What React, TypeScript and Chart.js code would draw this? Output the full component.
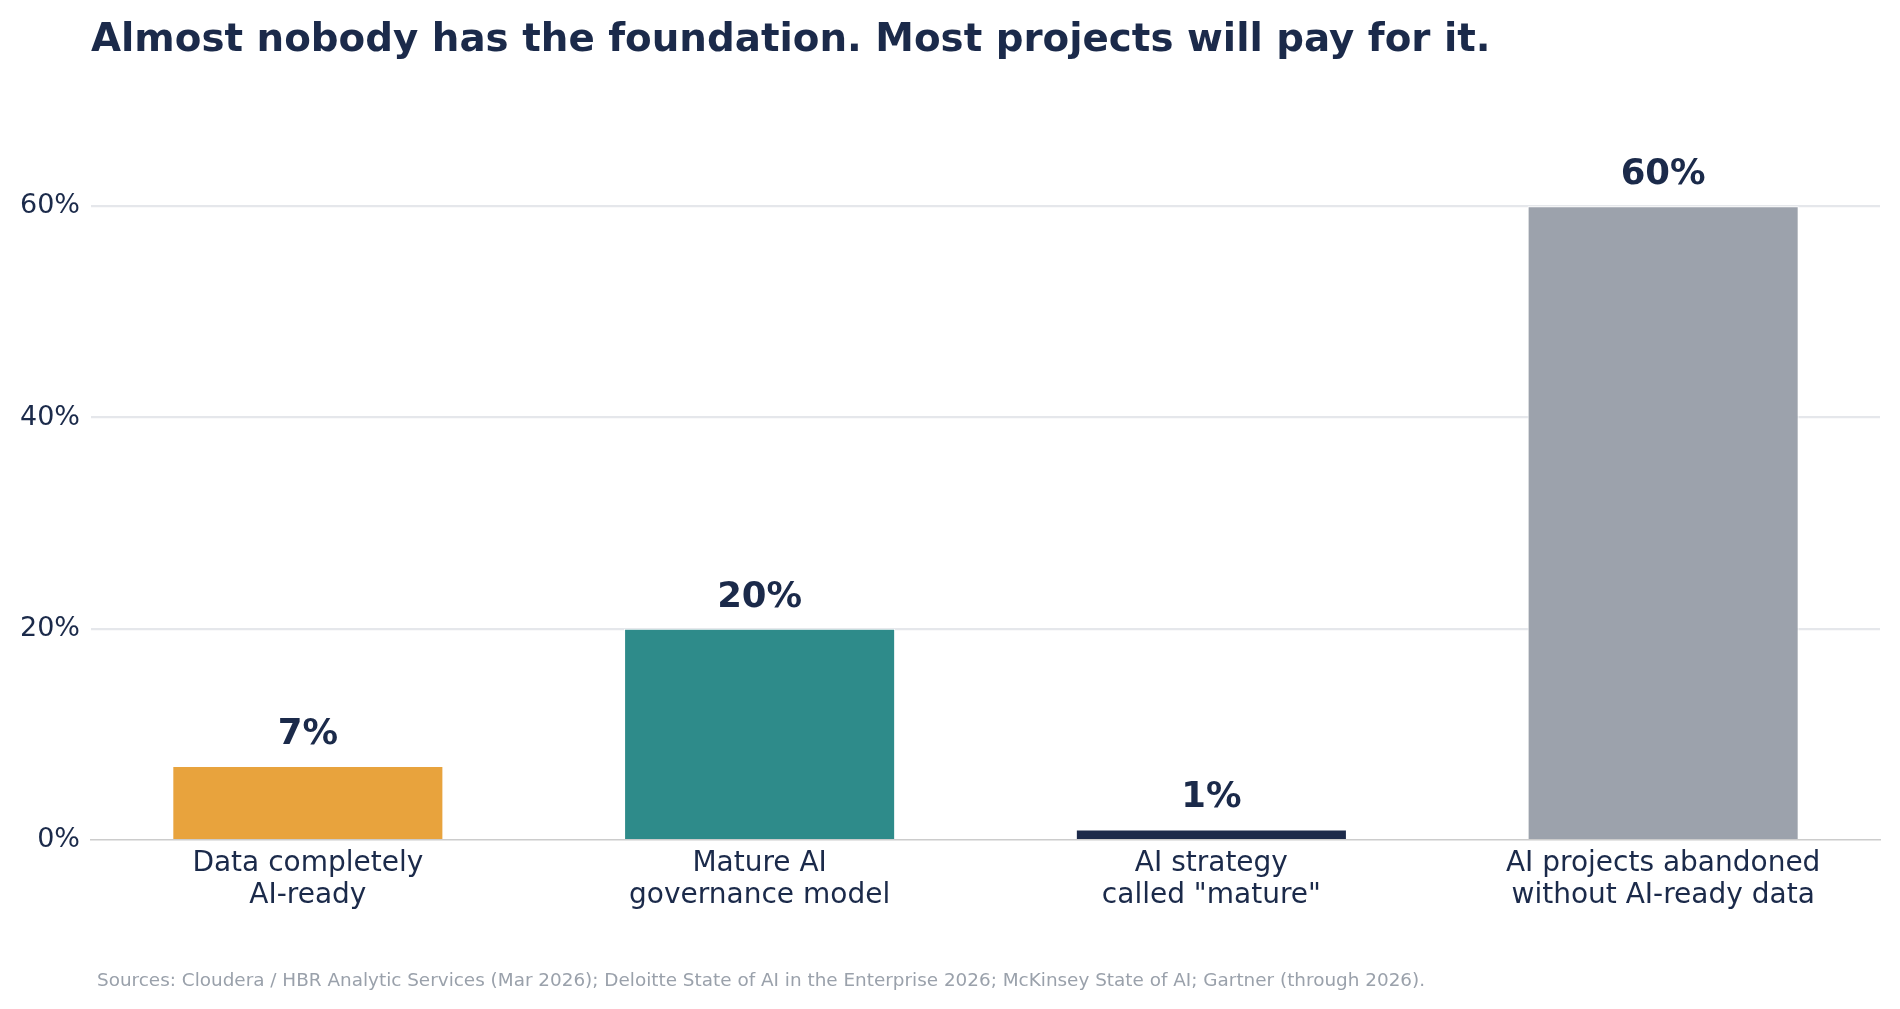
import React, { useEffect, useRef } from "react";
import { Chart, registerables } from "chart.js";

Chart.register(...registerables);

const categories: string[][] = [
  ["Data completely", "AI-ready"],
  ["Mature AI", "governance model"],
  ["AI strategy", 'called "mature"'],
  ["AI projects abandoned", "without AI-ready data"],
];
const values: number[] = [7, 20, 1, 60];
const barColors: string[] = ["#E8A33D", "#2E8B8A", "#1C2A4A", "#9CA2AC"];
const yTicks: number[] = [0, 20, 40, 60];

const titleText = "Almost nobody has the foundation. Most projects will pay for it.";
const sourceText =
  "Sources: Cloudera / HBR Analytic Services (Mar 2026); Deloitte State of AI in the Enterprise 2026; McKinsey State of AI; Gartner (through 2026).";

const NAVY = "#1B2A4A";
const FONT = "'DejaVu Sans', sans-serif";

const App: React.FC = () => {
  const canvasRef = useRef<HTMLCanvasElement | null>(null);

  useEffect(() => {
    document.body.style.margin = "0";
    if (!canvasRef.current) return;
    const ctx = canvasRef.current.getContext("2d");
    if (!ctx) return;

    const chart = new Chart(ctx, {
      type: "bar",
      data: {
        datasets: [
          {
            data: values.map((v, i) => ({ x: i, y: v })),
            backgroundColor: barColors,
            borderColor: "#ffffff",
            borderWidth: 1,
            barPercentage: 0.6,
            categoryPercentage: 1,
          },
        ],
      },
      options: {
        responsive: true,
        maintainAspectRatio: false,
        animation: false,
        layout: { padding: { top: 143, right: 20, left: 0, bottom: 0 } },
        plugins: {
          legend: { display: false },
          tooltip: { enabled: false },
          title: { display: false },
        },
        scales: {
          x: {
            type: "linear",
            offset: false,
            min: -0.48,
            max: 3.48,
            afterBuildTicks: (axis) => {
              axis.ticks = categories.map((_, i) => ({ value: i }));
            },
            afterFit: (axis) => {
              axis.height = 169;
            },
            grid: { display: false, drawTicks: false, offset: false },
            border: { display: true, color: "#CCCCCC", width: 1.5 },
            ticks: {
              padding: 8,
              color: NAVY,
              font: { family: FONT, size: 28, lineHeight: 1.14 },
              maxRotation: 0,
              autoSkip: false,
              callback: (v) => categories[Number(v)] ?? "",
            },
          },
          y: {
            min: 0,
            max: 66,
            afterBuildTicks: (axis) => {
              axis.ticks = yTicks.map((v) => ({ value: v }));
            },
            afterFit: (axis) => {
              axis.width = 91;
            },
            grid: {
              drawTicks: false,
              lineWidth: 2.2,
              color: (c) => (c.tick && c.tick.value === 0 ? "rgba(0,0,0,0)" : "#E5E7EB"),
            },
            border: { display: false },
            ticks: {
              padding: 11,
              color: NAVY,
              font: { family: FONT, size: 27 },
              callback: (v) => `${v}%`,
            },
          },
        },
      },
      plugins: [
        {
          id: "labelsAndText",
          afterDatasetsDraw: (c) => {
            const g = c.ctx;
            const meta = c.getDatasetMeta(0);
            g.save();
            g.fillStyle = NAVY;
            g.font = `bold 35.5px ${FONT}`;
            g.textAlign = "center";
            g.textBaseline = "alphabetic";
            meta.data.forEach((bar, i) => {
              g.fillText(`${values[i]}%`, bar.x, bar.y - 22);
            });
            g.restore();
          },
          afterDraw: (c) => {
            const g = c.ctx;
            g.save();
            g.textAlign = "left";
            g.textBaseline = "alphabetic";
            g.fillStyle = NAVY;
            g.font = `bold 38.8px ${FONT}`;
            g.fillText(titleText, 91, 51);
            g.fillStyle = "#9AA1AB";
            g.font = `18.4px ${FONT}`;
            g.fillText(sourceText, 97, 986);
            g.restore();
          },
        },
      ],
    });

    return () => {
      chart.destroy();
    };
  }, []);

  return (
    <div style={{ width: 1900, height: 1009, position: "relative", background: "#ffffff" }}>
      <canvas ref={canvasRef}></canvas>
    </div>
  );
};

export default App;
